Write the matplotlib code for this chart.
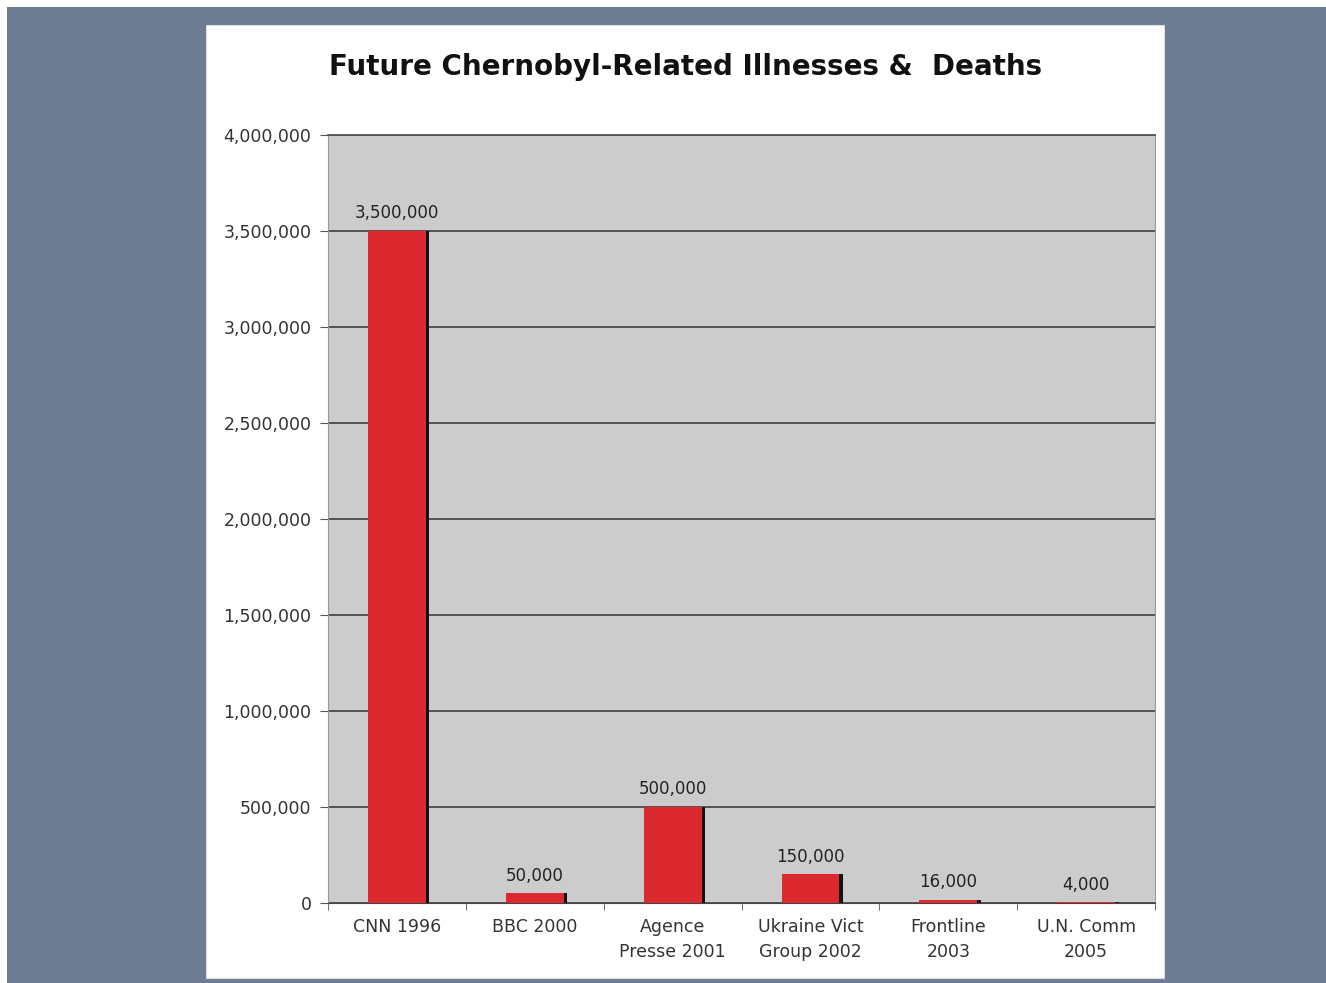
import numpy as np
import matplotlib.pyplot as plt
from matplotlib.patches import Rectangle
from matplotlib.ticker import FuncFormatter

sources = ['CNN 1996', 'BBC 2000', 'Agence\nPresse 2001', 'Ukraine Vict\nGroup 2002',
           'Frontline\n2003', 'U.N. Comm\n2005']
estimates = [3500000, 50000, 500000, 150000, 16000, 4000]
y_ticks = np.arange(0, 4000001, 500000)

fig = plt.figure(figsize=(13.26, 9.83), dpi=100)
fig.patch.set_facecolor('#6d7b93')

# thin white border on top and left, then the white chart card
fig.patches.append(Rectangle((0, 0.993), 1, 0.007, transform=fig.transFigure,
                             facecolor='white', edgecolor='none', zorder=-2))
fig.patches.append(Rectangle((0, 0), 0.0053, 1, transform=fig.transFigure,
                             facecolor='white', edgecolor='none', zorder=-2))
fig.patches.append(Rectangle((0.1554, 0.0051), 0.7225, 0.9695, transform=fig.transFigure,
                             facecolor='white', edgecolor='#dddddd', lw=0.8, zorder=-1))

ax = fig.add_axes([0.2474, 0.0814, 0.6237, 0.7813])
ax.set_facecolor('#cccccc')

x = np.arange(len(sources))
width = 0.42
# dark side face for the 3D look, then the red front face
ax.bar(x + 0.025, estimates, width, color='#111111', zorder=2)
ax.bar(x, estimates, width, color='#dc282f', zorder=3)

for xi, v in zip(x, estimates):
    ax.text(xi, v + 45000, f'{v:,}', ha='center', va='bottom', fontsize=12,
            color='#222222', zorder=4)

ax.set_xlim(-0.5, len(sources) - 0.5)
ax.set_ylim(0, 4000000)
ax.set_yticks(y_ticks)
ax.yaxis.set_major_formatter(FuncFormatter(lambda v, p: f'{int(v):,}'))
ax.yaxis.grid(True, color='#4a4a4a', lw=1.3)
ax.set_axisbelow(True)

ax.set_xticks(x)
ax.set_xticklabels(sources, fontsize=12.5, color='#333333', linespacing=1.5)
ax.set_xticks(np.arange(-0.5, len(sources)), minor=True)
ax.tick_params(axis='x', which='major', length=0, pad=11)
ax.tick_params(axis='x', which='minor', length=5, color='#555555')
ax.tick_params(axis='y', length=6, color='#555555', labelsize=12.5, labelcolor='#333333', pad=6)

for side in ['left', 'right']:
    ax.spines[side].set_color('#9a9a9a')
ax.spines['bottom'].set_color('#444444')
ax.spines['top'].set_color('#555555')
ax.spines['top'].set_linewidth(1.3)

fig.text(0.517, 0.932, 'Future Chernobyl-Related Illnesses &  Deaths', ha='center',
         va='center', fontsize=20, fontweight='bold', color='#111111')

fig.savefig('out.png', dpi=100, facecolor=fig.get_facecolor())
